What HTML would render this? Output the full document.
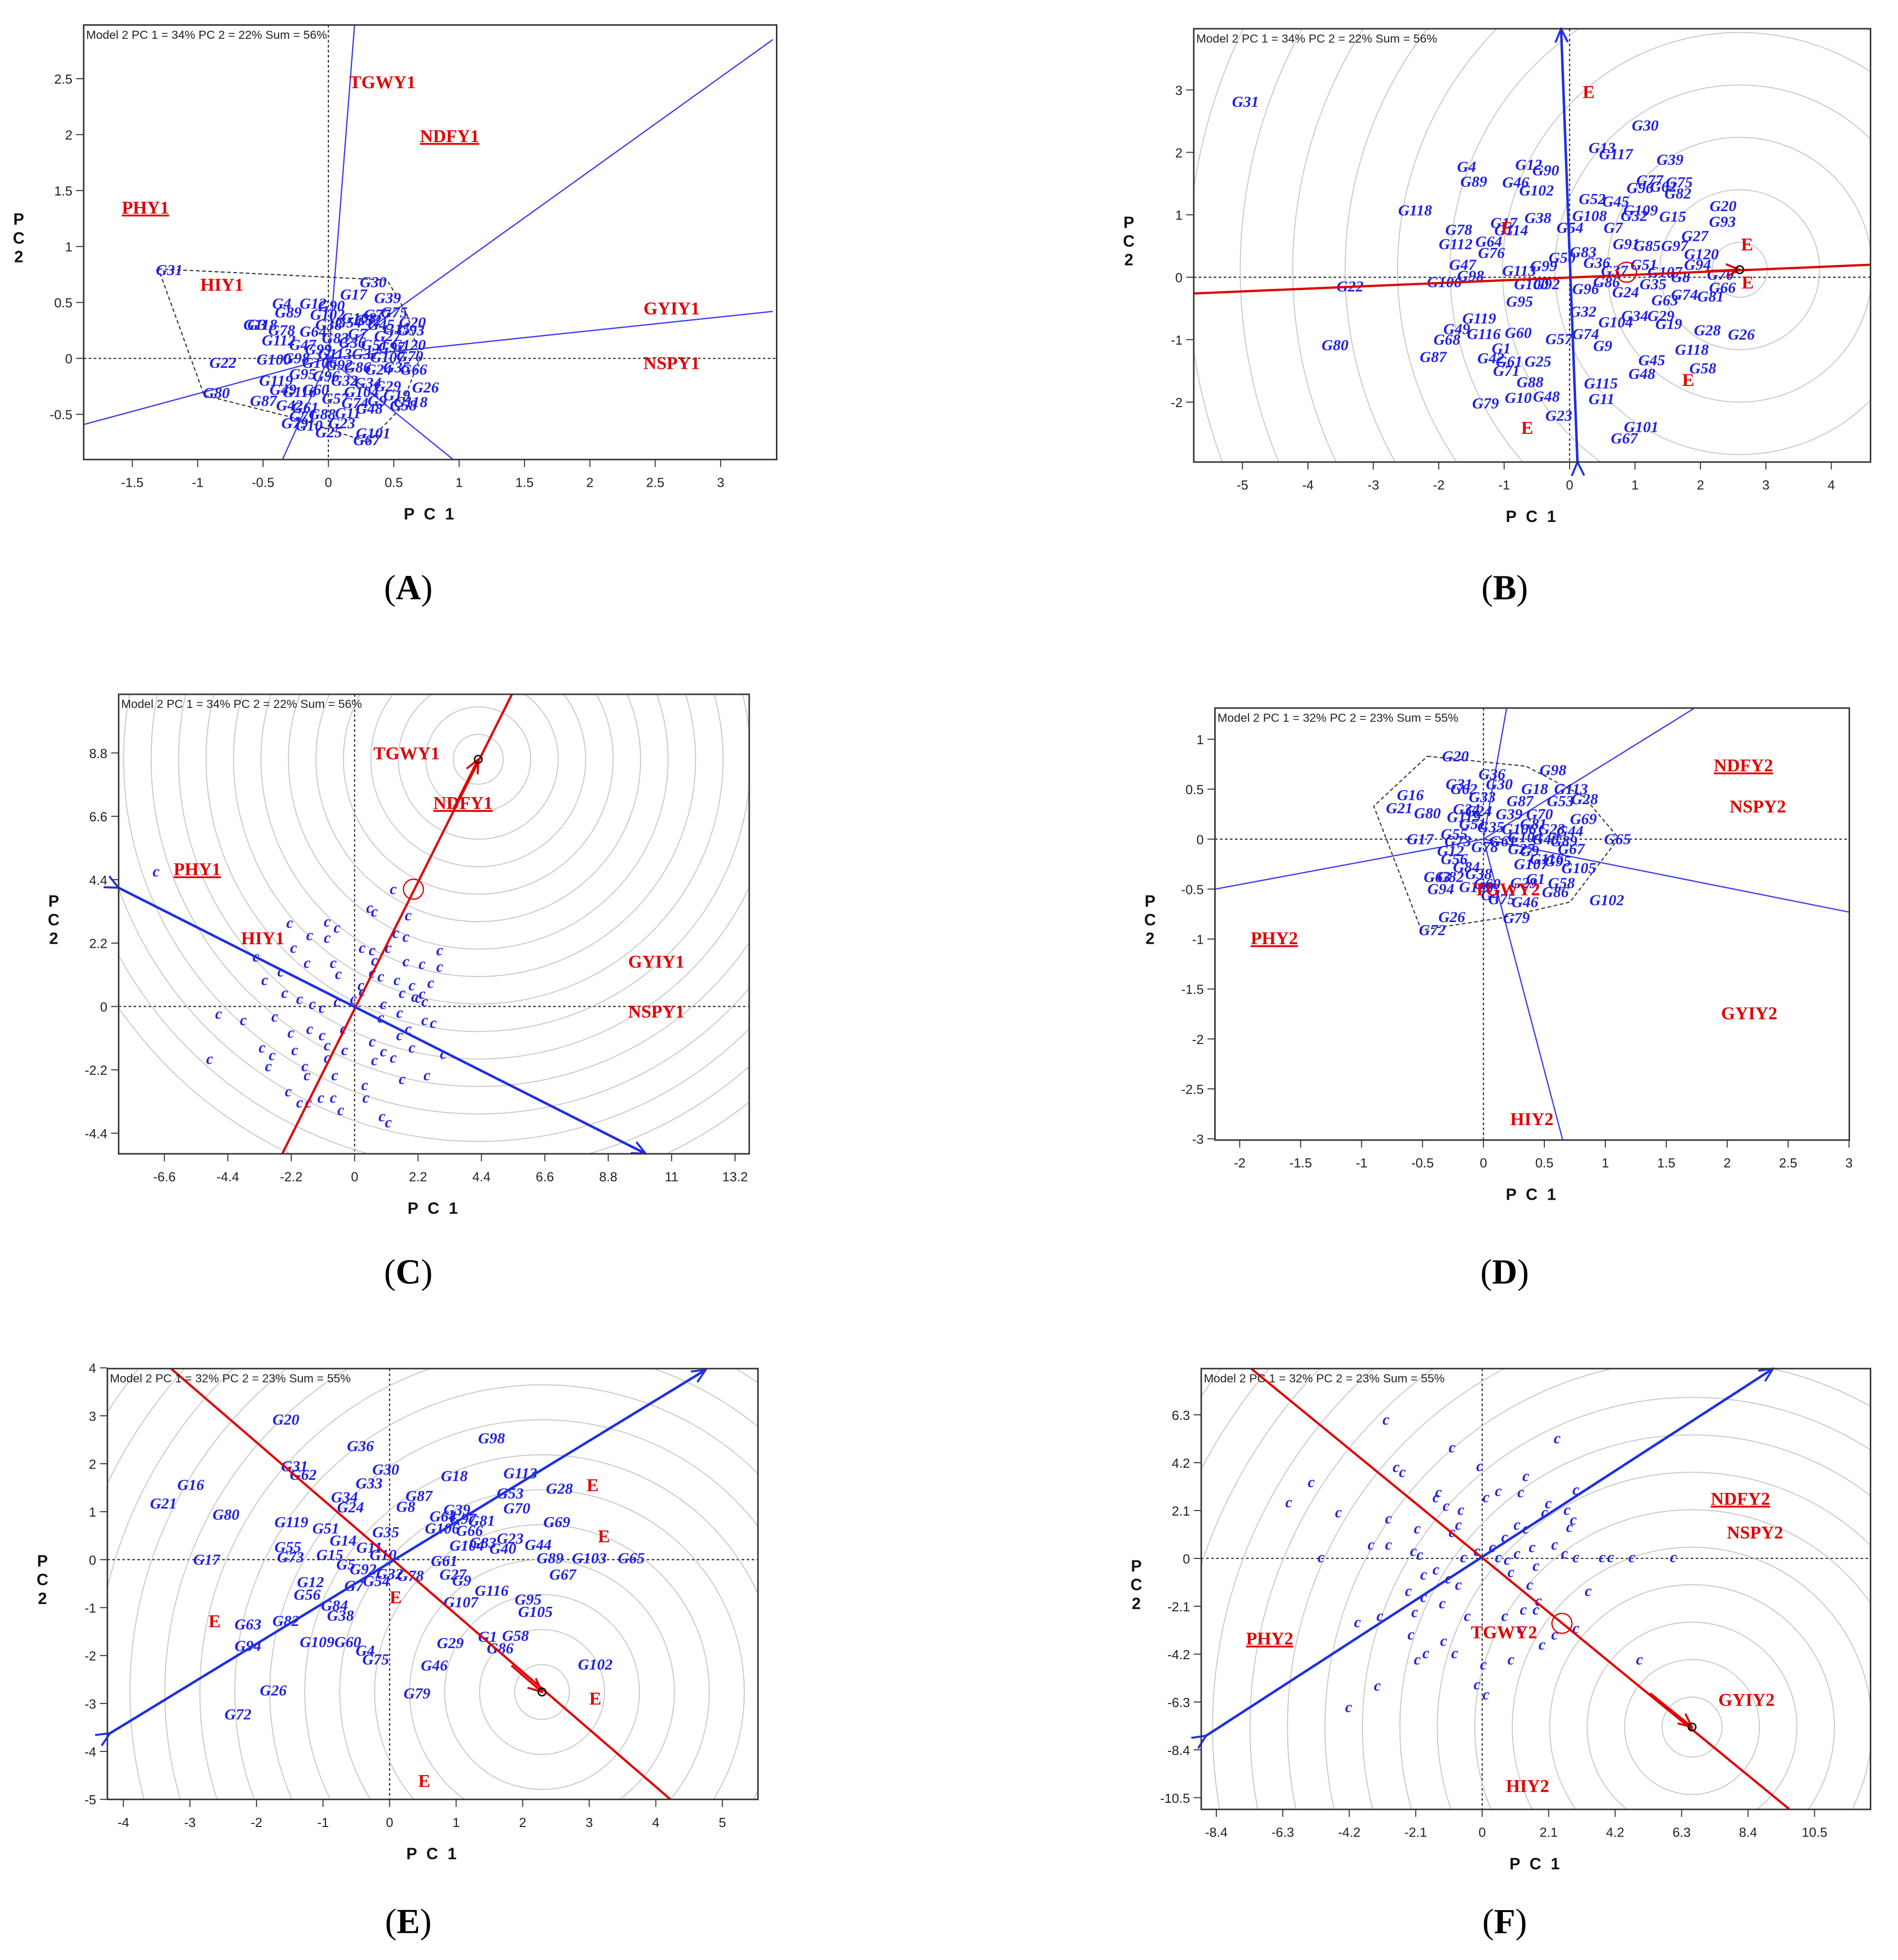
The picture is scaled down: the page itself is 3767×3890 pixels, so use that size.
<!DOCTYPE html>
<html><head><meta charset="utf-8"><style>
html,body{margin:0;padding:0;background:#fff;width:3767px;height:3890px;overflow:hidden;}
svg{display:block;}
.tk{font-family:"Liberation Sans",sans-serif;font-size:10.5px;fill:#222;}
.gl{font-family:"Liberation Serif",serif;font-style:italic;font-weight:bold;font-size:12.5px;fill:#1f1fe6;}
.tr{font-family:"Liberation Serif",serif;font-weight:bold;font-size:14.5px;fill:#e00000;}
.md{font-family:"Liberation Sans",sans-serif;font-size:9.5px;fill:#222;}
.at{font-family:"Liberation Sans",sans-serif;font-weight:bold;font-size:13px;fill:#111;}
.pl{font-family:"Liberation Serif",serif;font-size:28px;fill:#000;}
</style></head><body>
<svg id="fig" xmlns="http://www.w3.org/2000/svg" width="3767" height="3890" viewBox="0 0 1520 1569.6">
<defs>
<marker id="ab" markerWidth="12" markerHeight="12" refX="11" refY="6" orient="auto" markerUnits="userSpaceOnUse"><path d="M0,1 L11,6 L0,11" fill="none" stroke="#1f2fe0" stroke-width="1.6"/></marker>
<marker id="ar" markerWidth="12" markerHeight="12" refX="11" refY="6" orient="auto" markerUnits="userSpaceOnUse"><path d="M0,1 L11,6 L0,11" fill="none" stroke="#e00000" stroke-width="1.6"/></marker>
</defs>
</svg>
<script>
// ---------- DATA ----------
const ticksAx=[-1.5,-1,-0.5,0,0.5,1,1.5,2,2.5,3], ticksAy=[-0.5,0,0.5,1,1.5,2,2.5];
const ticksBx=[-5,-4,-3,-2,-1,0,1,2,3,4], ticksBy=[-2,-1,0,1,2,3];
const ticksCx=[-6.6,-4.4,-2.2,0,2.2,4.4,6.6,8.8,11,13.2], ticksCy=[-4.4,-2.2,0,2.2,4.4,6.6,8.8];
const ticksDx=[-2,-1.5,-1,-0.5,0,0.5,1,1.5,2,2.5,3], ticksDy=[-3,-2.5,-2,-1.5,-1,-0.5,0,0.5,1];
const ticksEx=[-4,-3,-2,-1,0,1,2,3,4,5], ticksEy=[-5,-4,-3,-2,-1,0,1,2,3,4];
const ticksFx=[-8.4,-6.3,-4.2,-2.1,0,2.1,4.2,6.3,8.4,10.5], ticksFy=[-10.5,-8.4,-6.3,-4.2,-2.1,0,2.1,4.2,6.3];

const traitsA=[["TGWY1",0.16,2.47,0],["NDFY1",0.7,1.99,1],["PHY1",-1.58,1.35,1],["HIY1",-0.98,0.66,0],["GYIY1",2.41,0.45,0],["NSPY1",2.41,-0.04,0]];
const traitsC=[["TGWY1",0.65,8.8,0],["NDFY1",2.73,7.07,1],["PHY1",-6.28,4.77,1],["HIY1",-3.94,2.38,0],["GYIY1",9.49,1.56,0],["NSPY1",9.49,-0.17,0]];
const traitsD=[["NDFY2",1.89,0.74,1],["NSPY2",2.02,0.33,0],["PHY2",-1.91,-0.99,1],["GYIY2",1.95,-1.74,0],["HIY2",0.22,-2.8,0],["TGWY2",-0.08,-0.5,0]];
const traitsF=[["NDFY2",7.22,2.63,1],["NSPY2",7.73,1.15,0],["TGWY2",-0.36,-3.23,0],["PHY2",-7.46,-3.51,1],["GYIY2",7.46,-6.19,0],["HIY2",0.75,-9.97,0]];
const envB=[[0.2,2.97],[2.62,0.53],[2.63,-0.08],[1.72,-1.64],[-0.74,-2.41],[-1.05,0.79]];
const envE=[[2.96,1.56],[3.13,0.49],[0,-0.78],[-2.72,-1.28],[3.0,-2.89],[0.43,-4.61]];

const raysA=[[0.2,2.98],[3.4,2.85],[3.4,0.42],[-1.9,-0.6],[-0.35,-0.9],[0.95,-0.9]];
const hullA=[[-1.3,0.8],[0.45,0.7],[0.6,0.4],[0.7,0],[0.55,-0.45],[0.3,-0.75],[-0.2,-0.55],[-0.95,-0.33]];
const raysD=[[0.19,1.31],[1.73,1.31],[3.0,-0.73],[0.65,-3.01],[-2.2,-0.5]];
const hullD=[[-0.46,0.83],[0.35,0.73],[0.82,0.43],[1.11,0.01],[0.71,-0.63],[0.14,-0.79],[-0.51,-0.91],[-0.9,0.33]];

const axisB={red:[[-5.74,-0.26],[4.6,0.2]],blue:[[0.12,-2.96],[-0.13,3.98]],center:[2.6,0.12],mark:[0.87,0.08]};
const axisC={red:[[-2.51,-5.11],[5.46,10.84]],blue:[[-8.19,4.12],[10.1,-5.11]],center:[4.29,8.58],mark:[2.04,4.07]};
const axisE={red:[[-3.28,3.98],[4.22,-5.0]],blue:[[-4.2,-3.62],[4.75,3.96]],center:[2.29,-2.76],mark:null};
const axisF={red:[[-7.3,8.33],[9.7,-11.0]],blue:[[-8.72,-7.78],[9.19,8.33]],center:[6.63,-7.4],mark:[2.52,-2.85]};

const genoA=[["G31",-1.32,0.79],["G30",0.24,0.68],["G17",0.09,0.57],["G39",0.35,0.54],["G4",-0.43,0.49],["G12",-0.22,0.49],["G90",-0.08,0.47],["G89",-0.41,0.41],["G102",-0.14,0.39],["G75",0.4,0.41],["G77",0.27,0.39],["G118",-0.65,0.3],["G3",-0.62,0.3],["G20",0.54,0.32],["G93",0.53,0.25],["G78",-0.46,0.25],["G64",-0.22,0.24],["G112",-0.51,0.16],["G22",-0.91,-0.04],["G100",-0.55,-0.01],["G26",0.64,-0.26],["G80",-0.96,-0.31],["G87",-0.6,-0.38],["G119",-0.53,-0.2],["G118",0.5,-0.39],["G58",0.47,-0.42],["G48",0.21,-0.45],["G11",0.05,-0.49],["G79",-0.36,-0.58],["G25",-0.1,-0.66],["G101",0.21,-0.67],["G67",0.19,-0.73],
["G38",-0.1,0.3],["G54",0.05,0.32],["G108",0.1,0.36],["G52",0.2,0.34],["G45",0.3,0.3],["G15",0.42,0.26],["G27",0.35,0.2],["G7",0.15,0.22],["G83",-0.05,0.18],["G36",0.08,0.14],["G51",0.25,0.12],["G97",0.38,0.1],["G120",0.48,0.12],["G47",-0.3,0.12],["G99",-0.18,0.08],["G113",-0.08,0.04],["G37",0.18,0.04],["G107",0.32,0.01],["G70",0.52,0.02],["G98",-0.35,0.0],["G106",-0.2,-0.04],["G92",-0.02,-0.06],["G86",0.12,-0.08],["G24",0.28,-0.1],["G35",0.42,-0.08],["G66",0.55,-0.1],["G95",-0.3,-0.14],["G96",-0.12,-0.16],["G32",0.02,-0.2],["G34",0.2,-0.22],["G29",0.35,-0.25],["G104",0.12,-0.3],["G19",0.42,-0.33],["G49",-0.45,-0.28],["G116",-0.35,-0.3],["G60",-0.2,-0.28],["G57",-0.05,-0.36],["G74",0.1,-0.4],["G9",0.3,-0.38],["G42",-0.4,-0.42],["G61",-0.28,-0.44],["G71",-0.3,-0.52],["G88",-0.15,-0.5],["G10",-0.25,-0.6],["G23",0.0,-0.58]];

const genoB=[["G31",-5.16,2.81],["G30",0.95,2.43],["G13",0.29,2.07],["G117",0.45,1.97],["G39",1.33,1.88],["G4",-1.72,1.77],["G12",-0.83,1.8],["G90",-0.57,1.71],["G89",-1.67,1.53],["G46",-1.03,1.52],["G102",-0.77,1.39],["G77",1.02,1.55],["G75",1.47,1.52],["G96",0.87,1.43],["G62",1.23,1.45],["G82",1.45,1.34],["G52",0.14,1.25],["G45",0.5,1.21],["G20",2.14,1.14],["G93",2.13,0.89],["G108",0.04,0.98],["G109",0.82,1.07],["G32",0.78,0.98],["G15",1.37,0.97],["G118",-2.62,1.07],["G17",-1.21,0.87],["G114",-1.15,0.75],["G38",-0.69,0.95],["G78",-1.9,0.76],["G54",-0.2,0.79],["G7",0.52,0.79],["G27",1.71,0.66],["G112",-2.0,0.53],["G64",-1.44,0.57],["G76",-1.4,0.39],["G91",0.66,0.53],["G85",0.98,0.5],["G97",1.4,0.5],["G83",0.0,0.4],["G120",1.75,0.37],["G50",-0.32,0.31],["G36",0.21,0.23],["G47",-1.84,0.2],["G99",-0.6,0.18],["G113",-1.03,0.1],["G51",0.93,0.2],["G37",0.48,0.1],["G107",1.19,0.08],["G94",1.75,0.2],["G98",-1.72,0.02],["G106",-2.18,-0.08],["G22",-3.56,-0.15],["G100",-0.85,-0.11],["G92",-0.56,-0.11],["G8",1.55,0.0],["G70",2.1,0.04],["G66",2.13,-0.17],["G86",0.36,-0.08],["G96",0.04,-0.19],["G24",0.65,-0.24],["G35",1.07,-0.11],["G63",1.25,-0.37],["G74",1.55,-0.28],["G81",1.95,-0.31],["G95",-0.97,-0.39],["G32",0.0,-0.55],["G119",-1.64,-0.66],["G34",0.79,-0.62],["G29",1.19,-0.62],["G104",0.44,-0.72],["G19",1.31,-0.75],["G28",1.9,-0.85],["G26",2.42,-0.92],["G49",-1.93,-0.83],["G116",-1.57,-0.91],["G60",-0.99,-0.89],["G68",-2.08,-1.0],["G57",-0.37,-0.99],["G74",0.04,-0.91],["G80",-3.79,-1.09],["G9",0.36,-1.1],["G118",1.61,-1.16],["G1",-1.19,-1.14],["G87",-2.29,-1.28],["G42",-1.41,-1.3],["G61",-1.13,-1.35],["G25",-0.69,-1.35],["G45",1.05,-1.33],["G71",-1.17,-1.5],["G58",1.83,-1.46],["G48",0.9,-1.55],["G88",-0.81,-1.68],["G115",0.22,-1.7],["G11",0.29,-1.95],["G79",-1.49,-2.02],["G10",-0.99,-1.93],["G48",-0.56,-1.91],["G23",-0.37,-2.22],["G101",0.83,-2.4],["G67",0.63,-2.58]];

const genoD=[["G20",-0.34,0.83],["G98",0.46,0.69],["G36",-0.04,0.65],["G31",-0.31,0.55],["G62",-0.27,0.5],["G30",0.02,0.55],["G18",0.31,0.5],["G113",0.58,0.5],["G16",-0.71,0.44],["G28",0.72,0.4],["G33",-0.12,0.42],["G87",0.19,0.38],["G53",0.52,0.38],["G21",-0.8,0.31],["G80",-0.57,0.26],["G17",-0.63,0.0],["G65",0.99,0.0],["G69",0.71,0.2],["G67",0.61,-0.1],["G105",0.64,-0.29],["G58",0.53,-0.44],["G86",0.48,-0.53],["G102",0.87,-0.61],["G63",-0.49,-0.38],["G94",-0.46,-0.5],["G109",-0.2,-0.48],["G46",0.23,-0.63],["G26",-0.37,-0.78],["G79",0.16,-0.79],["G72",-0.53,-0.91],["G4",-0.02,-0.56],["G75",0.04,-0.6],
["G119",-0.3,0.22],["G51",-0.2,0.15],["G34",-0.25,0.3],["G24",-0.15,0.28],["G39",0.1,0.25],["G70",0.35,0.25],["G81",0.3,0.15],["G23",0.45,0.1],["G44",0.6,0.08],["G35",-0.05,0.12],["G106",0.15,0.1],["G55",-0.35,0.05],["G73",-0.32,-0.02],["G40",0.4,0.0],["G104",0.2,0.02],["G89",0.55,-0.02],["G61",0.05,-0.02],["G27",0.2,-0.1],["G78",-0.1,-0.08],["G9",0.3,-0.12],["G12",-0.38,-0.12],["G116",0.38,-0.2],["G56",-0.35,-0.2],["G107",0.25,-0.25],["G95",0.5,-0.22],["G84",-0.25,-0.28],["G38",-0.15,-0.35],["G82",-0.38,-0.38],["G29",0.22,-0.44],["G1",0.35,-0.4],["G60",-0.08,-0.45]];

const genoE=[["G20",-1.76,2.92],["G98",1.33,2.53],["G36",-0.64,2.37],["G31",-1.63,1.95],["G62",-1.5,1.77],["G30",-0.26,1.88],["G33",-0.51,1.59],["G18",0.77,1.74],["G113",1.71,1.8],["G16",-3.19,1.56],["G34",-0.88,1.3],["G24",-0.79,1.09],["G87",0.24,1.33],["G53",1.61,1.38],["G28",2.35,1.48],["G21",-3.6,1.17],["G80",-2.66,0.94],["G39",0.81,1.04],["G70",1.71,1.07],["G119",-1.73,0.78],["G51",-1.16,0.65],["G81",1.18,0.81],["G69",2.31,0.78],["G35",-0.26,0.57],["G106",0.53,0.65],["G23",1.61,0.44],["G44",2.03,0.31],["G55",-1.73,0.26],["G73",-1.69,0.05],["G40",1.5,0.23],["G104",0.9,0.29],["G89",2.21,0.03],["G103",2.74,0.03],["G65",3.43,0.03],["G17",-2.95,0.0],["G61",0.62,-0.03],["G27",0.75,-0.31],["G78",0.11,-0.34],["G67",2.4,-0.31],["G9",0.94,-0.44],["G12",-1.39,-0.47],["G116",1.28,-0.65],["G56",-1.44,-0.73],["G107",0.81,-0.89],["G95",1.88,-0.83],["G84",-1.03,-0.96],["G105",1.93,-1.09],["G63",-2.33,-1.35],["G82",-1.76,-1.28],["G38",-0.94,-1.17],["G29",0.71,-1.74],["G1",1.33,-1.61],["G58",1.69,-1.59],["G86",1.46,-1.85],["G94",-2.33,-1.8],["G109",-1.35,-1.72],["G60",-0.83,-1.72],["G4",-0.51,-1.9],["G75",-0.41,-2.08],["G46",0.47,-2.21],["G102",2.83,-2.19],["G26",-1.95,-2.73],["G79",0.21,-2.79],["G72",-2.48,-3.23],["G7",-0.68,-0.55],["G14",-0.9,0.4],["G11",-0.5,0.25],["G10",-0.3,0.1],["G92",-0.6,-0.2],["G32",-0.2,-0.3],["G8",0.1,1.1],["G64",0.6,0.9],["G97",0.9,0.85],["G15",-1.1,0.1],["G5",-0.8,-0.1],["G54",-0.4,-0.45],["G66",1.0,0.6],["G83",1.2,0.35]];

const cxC=[-6.89,1.34,0.52,0.69,-2.25,-0.95,-0.61,1.86,-1.56,-0.95,1.43,1.78,-3.42,-2.12,0.26,0.61,2.95,-1.65,-0.74,0.69,1.78,2.34,2.95,-2.56,-0.56,0.61,0.91,1.47,1.99,2.34,2.43,2.64,-4.72,-3.12,-2.43,-1.91,-1.47,-1.13,-0.61,0.26,1.0,1.56,2.43,2.73,-3.86,-2.77,-2.21,-1.56,-1.13,-0.95,-0.39,0.91,1.86,1.56,0.61,1.0,1.99,3.08,-5.03,-2.86,-2.08,-1.73,-0.95,-0.35,0.69,1.34,2.51,-2.99,-1.65,-0.69,0.35,1.65,-2.3,-1.17,-1.6,-0.74,0.39,-0.48,0.95,1.17,-1.91,-3.21,-0.04,0.22,1.17,1.65,2.08,2.21];
const cyC=[4.64,4.03,3.38,3.25,2.86,2.9,2.69,3.12,2.43,2.34,2.51,2.38,1.69,1.99,1.99,1.91,1.91,1.47,1.47,1.56,1.52,1.43,1.34,1.17,1.08,1.13,1.0,0.87,0.69,0.39,0.13,0.78,-0.3,0.87,0.43,0.22,0.04,-0.09,0.13,0.48,0.04,-0.26,-0.52,-0.61,-0.52,-0.39,-0.95,-0.82,-1.04,-1.39,-0.82,-0.43,-0.82,-1.04,-1.26,-1.6,-1.47,-1.69,-1.86,-1.73,-1.56,-2.12,-1.82,-1.56,-1.91,-1.82,-2.43,-2.12,-2.43,-2.43,-2.77,-2.56,-2.99,-3.21,-3.38,-3.21,-3.21,-3.64,-3.86,-4.07,-3.38,-1.47,0.22,0.69,1.99,0.43,0.3,0.26];
const cxF=[-3.04,-0.95,-5.4,-6.11,-4.54,-2.72,-2.52,-1.38,-0.08,2.37,1.38,2.96,0.51,0.12,-2.96,-1.46,-1.14,-0.67,2.09,1.1,1.38,-0.75,-0.95,-2.05,-2.17,-1.97,-2.96,-1.85,-1.46,-1.07,-0.59,0.71,1.58,2.29,2.6,2.96,3.79,4.73,6.04,-5.09,2.68,2.76,-2.33,-1.85,-1.26,-2.13,-3.23,-3.94,-2.25,-1.22,-0.87,-1.78,-2.05,0.91,1.5,1.78,1.3,0.71,1.22,2.96,0.91,0.04,1.89,2.29,4.97,-3.31,-4.22,0.12,-0.16,1.7,-3.51,-0.16,0.32,0.51,0.79,1.7,1.1,3.35,1.22,1.97,2.88,4.06,-0.47,-0.75];
const cyF=[6.03,4.82,3.29,2.41,1.97,3.95,3.73,2.85,4.0,5.21,3.56,2.96,2.9,2.63,1.7,2.63,2.25,2.08,2.36,1.42,1.26,1.42,1.1,1.26,0.27,0.11,0.55,-0.77,-0.55,-0.93,0,0.88,0.44,0.55,0.16,0,0,0,0,0,2.08,1.32,-1.48,-1.75,-2.03,-2.41,-2.58,-2.85,-3.4,-3.67,-4.22,-4.22,-4.49,-0.66,-1.21,-1.92,-2.3,-2.58,-3.12,-3.12,-4.49,-4.71,-3.84,-3.4,-4.49,-5.64,-6.58,-6.03,-5.59,-2.3,0.55,0.27,0.44,0,-0.11,-0.38,0.16,-1.48,2.85,1.97,1.64,0,-2.58,-1.21];

// ---------- LAYOUT ----------
const NS="http://www.w3.org/2000/svg";
const svg=document.getElementById('fig');
function mk(tag,attrs,parent){const e=document.createElementNS(NS,tag);for(const k in attrs)e.setAttribute(k,attrs[k]);(parent||svg).appendChild(e);return e;}
function txt(s,attrs,parent){const e=mk('text',attrs,parent);e.textContent=s;return e;}

const panels={
A:{f:[67,20,622,368],x0:263,kx:104.7,y0:287,ky:89.6,model:"Model 2 PC 1 = 34% PC 2 = 22% Sum = 56%",xt:ticksAx,yt:ticksAy,lab:[327,470]},
B:{f:[956,23,1498,370],x0:1257,kx:52.4,y0:222,ky:50,model:"Model 2 PC 1 = 34% PC 2 = 22% Sum = 56%",xt:ticksBx,yt:ticksBy,lab:[1205,470],ring:42,r0:22},
C:{f:[95,556,600,924],x0:284,kx:23.08,y0:806,ky:23.07,model:"Model 2 PC 1 = 34% PC 2 = 22% Sum = 56%",xt:ticksCx,yt:ticksCy,lab:[327,1018],ring:22,r0:20},
D:{f:[973,567,1481,913],x0:1188,kx:97.6,y0:672,ky:80,model:"Model 2 PC 1 = 32% PC 2 = 23% Sum = 55%",xt:ticksDx,yt:ticksDy,lab:[1205,1018]},
E:{f:[86,1096,607,1441],x0:312,kx:53.3,y0:1249,ky:38.4,model:"Model 2 PC 1 = 32% PC 2 = 23% Sum = 55%",xt:ticksEx,yt:ticksEy,lab:[327,1538],ring:28,r0:22},
F:{f:[962,1096,1498,1449],x0:1187,kx:25.35,y0:1248,ky:18.25,model:"Model 2 PC 1 = 32% PC 2 = 23% Sum = 55%",xt:ticksFx,yt:ticksFy,lab:[1205,1538],ring:30,r0:24}
};

function build(id){
  const P=panels[id];const [l,t,r,b]=P.f;
  const sx=v=>P.x0+v*P.kx, sy=v=>P.y0-v*P.ky;
  const g=mk('g',{});
  const cp=mk('clipPath',{id:'clip'+id},g);mk('rect',{x:l,y:t,width:r-l,height:b-t},cp);
  const inner=mk('g',{'clip-path':'url(#clip'+id+')'},g);
  P.sx=sx;P.sy=sy;P.g=g;P.inner=inner;
  P.xt.forEach(v=>{const x=sx(v);mk('line',{x1:x,y1:b,x2:x,y2:b+6,stroke:'#333','stroke-width':0.8},g);
    const e=txt(String(v),{x:x,y:b+22,'text-anchor':'middle',class:'tk'},g);});
  P.yt.forEach(v=>{const y=sy(v);mk('line',{x1:l-6,y1:y,x2:l,y2:y,stroke:'#333','stroke-width':0.8},g);
    const e=txt(String(v),{x:l-9,y:y+4,'text-anchor':'end',class:'tk'},g);});
  mk('line',{x1:l,y1:sy(0),x2:r,y2:sy(0),stroke:'#222','stroke-width':0.9,'stroke-dasharray':'2,2'},inner);
  mk('line',{x1:sx(0),y1:t,x2:sx(0),y2:b,stroke:'#222','stroke-width':0.9,'stroke-dasharray':'2,2'},inner);
  const xa=txt("P C 1",{x:(l+r)/2,y:b+48,'text-anchor':'middle',class:'at','letter-spacing':'2'},g);
  
  const ya=mk('text',{x:l-52,y:(t+b)/2-14,class:'at','text-anchor':'middle'},g);
  
  ["P","C","2"].forEach((c,i)=>{const s=mk('tspan',{x:l-52,dy:i?15:0},ya);s.textContent=c;});
  const pl=txt("",{x:P.lab[0],y:P.lab[1]+10,'text-anchor':'middle',class:'pl'},g);
  
  pl.innerHTML='(<tspan font-weight="bold">'+id+'</tspan>)';
  return P;
}
function finish(P,id){
  const [l,t,r,b]=P.f;
  mk('rect',{x:l,y:t,width:r-l,height:b-t,fill:'none',stroke:'#333','stroke-width':1.2},P.g);
  const m=txt(P.model,{x:l+2,y:t+11,class:'md'},P.g);
}
function rings(P,c){const cx=P.sx(c[0]),cy=P.sy(c[1]);for(let i=0;i<16;i++){const rr=P.r0+i*P.ring;const e=mk('circle',{cx:cx,cy:cy,r:rr,fill:'none',stroke:'#c8c8c8','stroke-width':0.8},P.inner);}}
function traits(P,arr){arr.forEach(d=>{const e=txt(d[0],{x:P.sx(d[1]),y:P.sy(d[2])+5,class:'tr','text-decoration':d[3]?'underline':'none'},P.g);});}
function genos(P,arr){arr.forEach(d=>{const e=txt(d[0],{x:P.sx(d[1]),y:P.sy(d[2])+4,class:'gl'},P.inner);});}
function cpts(P,xs,ys){xs.forEach((v,i)=>{const e=txt('c',{x:P.sx(v),y:P.sy(ys[i])+3,class:'gl','font-size':'11','text-anchor':'middle'},P.inner);});}
function rays(P,arr){arr.forEach(d=>{const e=mk('line',{x1:P.sx(0),y1:P.sy(0),x2:P.sx(d[0]),y2:P.sy(d[1]),stroke:'#3a3af0','stroke-width':1},P.inner);});}
function hull(P,arr){const e=mk('polygon',{points:arr.map(d=>P.sx(d[0])+','+P.sy(d[1])).join(' '),fill:'none',stroke:'#333','stroke-width':0.9,'stroke-dasharray':'3,2'},P.inner);}
function axes2(P,A){
  const bl=mk('line',{x1:P.sx(A.blue[0][0]),y1:P.sy(A.blue[0][1]),x2:P.sx(A.blue[1][0]),y2:P.sy(A.blue[1][1]),stroke:'#1f2fe0','stroke-width':2,'marker-start':'url(#ab)','marker-end':'url(#ab)'},P.g);
  
  const rl=mk('line',{x1:P.sx(A.red[0][0]),y1:P.sy(A.red[0][1]),x2:P.sx(A.red[1][0]),y2:P.sy(A.red[1][1]),stroke:'#e00000','stroke-width':1.8},P.inner);
  
  const c=A.center;
  const ar=mk('line',{x1:P.sx(c[0]*0.8),y1:P.sy(c[1]*0.8),x2:P.sx(c[0]),y2:P.sy(c[1]),stroke:'#e00000','stroke-width':1.8,'marker-end':'url(#ar)'},P.g);
  
  const cc=mk('circle',{cx:P.sx(c[0]),cy:P.sy(c[1]),r:3,fill:'none',stroke:'#111','stroke-width':1.2},P.g);
  
  if(A.mark){const m=mk('circle',{cx:P.sx(A.mark[0]),cy:P.sy(A.mark[1]),r:8,fill:'none',stroke:'#e00000','stroke-width':1},P.g);}
}
function envs(P,arr){arr.forEach(d=>{const e=txt('E',{x:P.sx(d[0]),y:P.sy(d[1])+5,class:'tr'},P.g);});}

let P=build('A');rays(P,raysA);hull(P,hullA);genos(P,genoA);traits(P,traitsA);finish(P,'A');
P=build('B');rings(P,axisB.center);genos(P,genoB);axes2(P,axisB);envs(P,envB);finish(P,'B');
P=build('C');rings(P,axisC.center);cpts(P,cxC,cyC);axes2(P,axisC);traits(P,traitsC);finish(P,'C');
P=build('D');rays(P,raysD);hull(P,hullD);genos(P,genoD);traits(P,traitsD);finish(P,'D');
P=build('E');rings(P,axisE.center);genos(P,genoE);axes2(P,axisE);envs(P,envE);finish(P,'E');
P=build('F');rings(P,axisF.center);cpts(P,cxF,cyF);axes2(P,axisF);traits(P,traitsF);finish(P,'F');
</script>
</body></html>
